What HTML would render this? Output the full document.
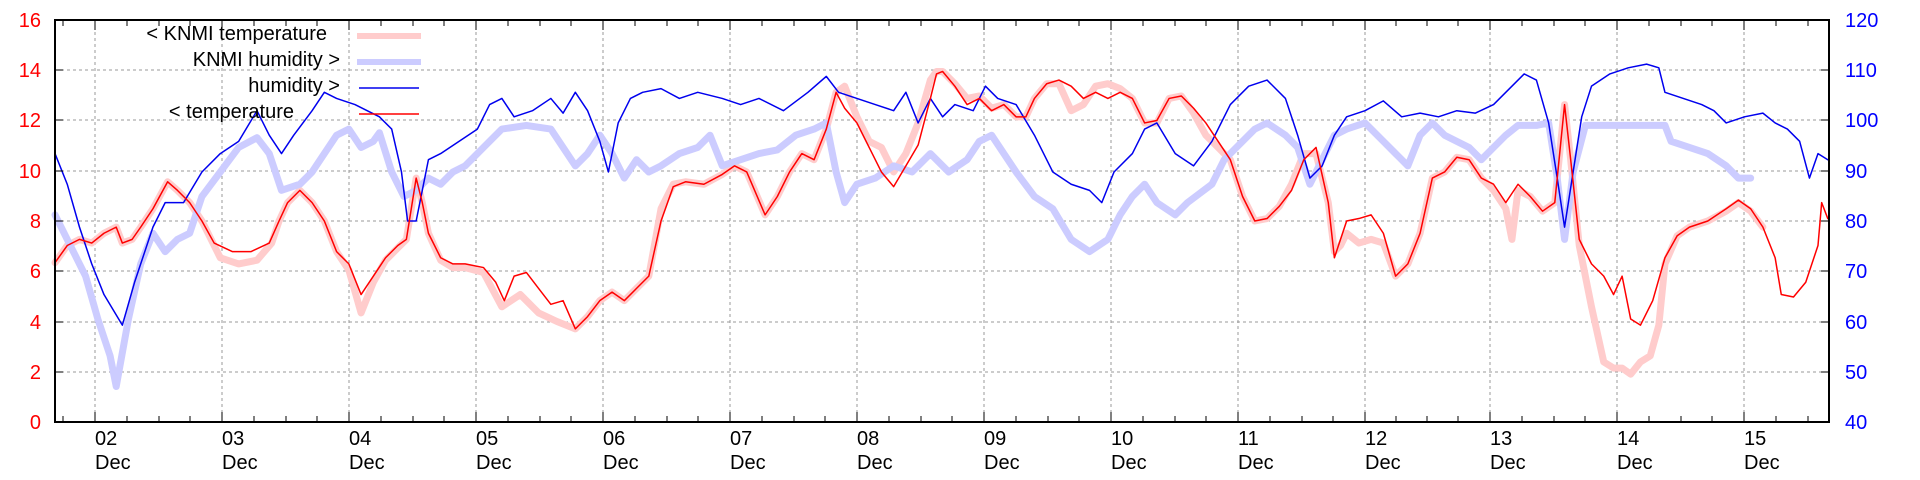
<!DOCTYPE html>
<html><head><meta charset="utf-8"><style>
html,body{margin:0;padding:0;background:#fff;}
svg{display:block;font-family:"Liberation Sans",sans-serif;}
</style></head><body>
<svg width="1920" height="480" viewBox="0 0 1920 480" xmlns="http://www.w3.org/2000/svg">
<rect width="1920" height="480" fill="#fff"/>
<g stroke="#999" stroke-width="1" stroke-dasharray="3,3">
<line x1="55" y1="70" x2="1829" y2="70"/><line x1="55" y1="120" x2="1829" y2="120"/><line x1="55" y1="171" x2="1829" y2="171"/><line x1="55" y1="221" x2="1829" y2="221"/><line x1="55" y1="271" x2="1829" y2="271"/><line x1="55" y1="322" x2="1829" y2="322"/><line x1="55" y1="372" x2="1829" y2="372"/>
<line x1="95" y1="20" x2="95" y2="422"/><line x1="222" y1="20" x2="222" y2="422"/><line x1="349" y1="20" x2="349" y2="422"/><line x1="476" y1="20" x2="476" y2="422"/><line x1="603" y1="20" x2="603" y2="422"/><line x1="730" y1="20" x2="730" y2="422"/><line x1="857" y1="20" x2="857" y2="422"/><line x1="984" y1="20" x2="984" y2="422"/><line x1="1111" y1="20" x2="1111" y2="422"/><line x1="1238" y1="20" x2="1238" y2="422"/><line x1="1365" y1="20" x2="1365" y2="422"/><line x1="1490" y1="20" x2="1490" y2="422"/><line x1="1617" y1="20" x2="1617" y2="422"/><line x1="1744" y1="20" x2="1744" y2="422"/>
</g>
<g fill="none" stroke-linejoin="round" stroke-linecap="round" transform="translate(55,20) scale(1.2243,1.2256) translate(-45,-16)">
<polyline vector-effect="non-scaling-stroke" stroke="#ffcccc" stroke-width="7" points="45,214 55,200 65,195 75,198 85,190 95,185 100,198 108,195 115,185 125,170 137,148 145,155 155,165 165,180 180,210 195,215 210,212 222,198 228,180 235,165 245,155 255,165 265,180 275,205 285,220 295,255 305,230 315,212 325,202 332,195 340,145 345,165 350,190 360,212 370,218 380,218 395,222 410,250 425,240 440,255 455,262 470,268 480,258 490,245 500,238 510,245 520,235 530,225 540,170 550,150 560,148 575,150 590,142 600,135 610,140 625,175 635,160 645,140 655,125 665,130 675,105 683,75 690,70 700,95 710,115 720,120 730,140 740,125 750,100 760,65 765,58 770,58 780,68 790,80 800,78 810,88 820,85 830,95 838,95 845,80 855,68 865,68 875,90 885,85 895,70 905,68 915,72 925,80 935,100 945,100 955,80 965,78 975,92 985,110 995,120 1005,130 1015,160 1025,180 1035,178 1045,168 1055,150 1065,125 1075,125 1085,165 1090,205 1095,200 1100,190 1110,198 1120,195 1130,198 1140,225 1150,215 1160,190 1170,145 1180,140 1190,128 1200,130 1210,145 1220,155 1230,170 1235,195 1240,155 1250,160 1260,172 1270,165 1278,85 1283,130 1290,200 1300,250 1310,295 1318,300 1325,300 1332,305 1340,295 1348,290 1355,265 1360,215 1370,192 1380,185 1395,180 1410,172 1420,165 1430,172 1440,185"/>
<polyline vector-effect="non-scaling-stroke" stroke="#ccccff" stroke-width="7" points="45,175 55,195 70,225 80,260 90,290 95,315 105,260 115,215 125,190 135,205 145,195 155,190 165,160 180,140 195,120 210,112 220,125 230,155 245,150 255,140 265,125 275,110 285,105 295,120 305,115 310,108 320,140 330,160 340,155 350,145 360,150 370,140 380,135 395,120 410,105 430,102 450,105 460,120 470,135 480,125 490,110 500,125 510,145 520,130 530,140 540,135 555,125 570,120 580,110 590,135 605,130 620,125 635,122 650,110 665,105 675,100 683,140 690,165 700,150 715,145 730,135 745,140 760,125 775,140 790,130 800,115 810,110 820,125 830,140 845,160 860,170 875,195 890,205 905,195 915,175 925,160 935,150 945,165 960,175 970,165 990,150 1000,130 1010,120 1025,105 1035,100 1050,110 1060,120 1070,150 1080,130 1090,110 1100,105 1115,100 1130,115 1140,125 1150,135 1160,110 1170,100 1180,110 1190,115 1200,120 1210,130 1220,120 1230,110 1240,102 1255,102 1265,100 1272,145 1278,195 1285,140 1295,102 1330,102 1360,102 1365,115 1380,120 1395,125 1410,135 1420,145 1430,145"/>
<polyline vector-effect="non-scaling-stroke" stroke="#0000ee" stroke-width="1.5" points="45,125 55,150 65,185 75,215 85,240 100,265 110,230 125,185 135,165 150,165 165,140 180,125 195,115 210,90 220,110 230,125 240,110 255,90 265,75 275,80 290,85 300,90 310,95 320,105 328,140 333,180 340,180 350,130 360,125 375,115 390,105 400,85 410,80 420,95 435,90 450,80 460,92 470,75 480,90 490,115 497,140 505,100 515,80 525,75 540,72 555,80 570,75 590,80 605,85 620,80 640,90 660,75 675,62 685,75 700,80 715,85 730,90 740,75 750,100 760,80 770,95 780,85 795,90 805,70 815,80 830,85 845,110 860,140 875,150 890,155 900,165 910,140 925,125 935,105 945,100 960,125 975,135 990,115 1005,85 1020,70 1035,65 1050,80 1060,110 1070,145 1080,135 1090,110 1100,95 1115,90 1130,82 1145,95 1160,92 1175,95 1190,90 1205,92 1220,85 1235,70 1245,60 1255,65 1265,100 1272,145 1278,185 1285,140 1292,95 1300,70 1315,60 1330,55 1345,52 1355,55 1360,75 1375,80 1390,85 1400,90 1410,100 1425,95 1440,92 1450,100 1460,105 1470,115 1478,145 1485,125 1493,130"/>
<polyline vector-effect="non-scaling-stroke" stroke="#ff0000" stroke-width="1.5" points="45,214 55,200 65,195 75,198 85,190 95,185 100,198 108,195 115,185 125,170 137,148 145,155 155,165 165,180 175,198 190,205 205,205 220,198 228,180 235,165 245,155 255,165 265,180 275,205 285,215 295,240 305,225 315,210 325,200 332,195 340,145 345,165 350,190 360,210 370,215 380,215 395,218 405,230 412,245 420,225 430,222 440,235 450,248 460,245 470,268 480,258 490,245 500,238 510,245 520,235 530,225 540,180 550,152 560,148 575,150 590,142 600,135 610,140 625,175 635,160 645,140 655,125 665,130 675,105 683,75 690,88 700,100 710,120 720,140 730,152 740,135 750,118 760,80 765,60 770,58 780,70 790,85 800,80 810,90 820,85 830,95 838,95 845,80 855,68 865,65 875,70 885,80 895,75 905,80 915,75 925,80 935,100 945,98 955,80 965,78 975,88 985,100 995,115 1005,130 1015,160 1025,180 1035,178 1045,168 1055,155 1065,130 1075,120 1085,165 1090,210 1095,195 1100,180 1110,178 1120,175 1130,190 1140,225 1150,215 1160,190 1170,145 1180,140 1190,128 1200,130 1210,145 1220,150 1230,165 1240,150 1250,160 1260,172 1270,165 1278,85 1283,130 1290,195 1300,215 1310,225 1318,240 1325,225 1332,260 1340,265 1350,245 1360,210 1370,192 1380,185 1395,180 1410,170 1420,163 1430,170 1440,185 1450,210 1455,240 1465,242 1475,230 1485,200 1488,165 1493,178"/>
</g>
<g stroke="#000" stroke-width="1">
<path d="M63,422v-6M63,20v6M127,422v-6M127,20v6M159,422v-6M159,20v6M190,422v-6M190,20v6M254,422v-6M254,20v6M286,422v-6M286,20v6M317,422v-6M317,20v6M381,422v-6M381,20v6M413,422v-6M413,20v6M444,422v-6M444,20v6M508,422v-6M508,20v6M540,422v-6M540,20v6M571,422v-6M571,20v6M635,422v-6M635,20v6M667,422v-6M667,20v6M698,422v-6M698,20v6M762,422v-6M762,20v6M794,422v-6M794,20v6M825,422v-6M825,20v6M889,422v-6M889,20v6M921,422v-6M921,20v6M952,422v-6M952,20v6M1016,422v-6M1016,20v6M1048,422v-6M1048,20v6M1079,422v-6M1079,20v6M1143,422v-6M1143,20v6M1175,422v-6M1175,20v6M1206,422v-6M1206,20v6M1270,422v-6M1270,20v6M1302,422v-6M1302,20v6M1333,422v-6M1333,20v6M1396,422v-6M1396,20v6M1427,422v-6M1427,20v6M1458,422v-6M1458,20v6M1522,422v-6M1522,20v6M1554,422v-6M1554,20v6M1585,422v-6M1585,20v6M1649,422v-6M1649,20v6M1681,422v-6M1681,20v6M1712,422v-6M1712,20v6M1776,422v-6M1776,20v6M1808,422v-6M1808,20v6"/>
<path d="M95,422v-10M95,20v10M222,422v-10M222,20v10M349,422v-10M349,20v10M476,422v-10M476,20v10M603,422v-10M603,20v10M730,422v-10M730,20v10M857,422v-10M857,20v10M984,422v-10M984,20v10M1111,422v-10M1111,20v10M1238,422v-10M1238,20v10M1365,422v-10M1365,20v10M1490,422v-10M1490,20v10M1617,422v-10M1617,20v10M1744,422v-10M1744,20v10"/>
<path d="M55,70h8M55,120h8M55,171h8M55,221h8M55,271h8M55,322h8M55,372h8M1829,70h-8M1829,120h-8M1829,171h-8M1829,221h-8M1829,271h-8M1829,322h-8M1829,372h-8"/>
</g>
<rect x="55" y="20" width="1774" height="402" fill="none" stroke="#000" stroke-width="2"/>
<g font-size="20" fill="#ff0000" text-anchor="end">
<text x="41" y="27">16</text><text x="41" y="77">14</text><text x="41" y="127">12</text><text x="41" y="178">10</text><text x="41" y="228">8</text><text x="41" y="278">6</text><text x="41" y="329">4</text><text x="41" y="379">2</text><text x="41" y="429">0</text>
</g>
<g font-size="20" fill="#0000ff">
<text x="1845" y="27">120</text><text x="1845" y="77">110</text><text x="1845" y="127">100</text><text x="1845" y="178">90</text><text x="1845" y="228">80</text><text x="1845" y="278">70</text><text x="1845" y="329">60</text><text x="1845" y="379">50</text><text x="1845" y="429">40</text>
</g>
<g font-size="20" fill="#000">
<text x="95" y="445">02</text><text x="95" y="469">Dec</text>
<text x="222" y="445">03</text><text x="222" y="469">Dec</text>
<text x="349" y="445">04</text><text x="349" y="469">Dec</text>
<text x="476" y="445">05</text><text x="476" y="469">Dec</text>
<text x="603" y="445">06</text><text x="603" y="469">Dec</text>
<text x="730" y="445">07</text><text x="730" y="469">Dec</text>
<text x="857" y="445">08</text><text x="857" y="469">Dec</text>
<text x="984" y="445">09</text><text x="984" y="469">Dec</text>
<text x="1111" y="445">10</text><text x="1111" y="469">Dec</text>
<text x="1238" y="445">11</text><text x="1238" y="469">Dec</text>
<text x="1365" y="445">12</text><text x="1365" y="469">Dec</text>
<text x="1490" y="445">13</text><text x="1490" y="469">Dec</text>
<text x="1617" y="445">14</text><text x="1617" y="469">Dec</text>
<text x="1744" y="445">15</text><text x="1744" y="469">Dec</text>
</g>
<g font-size="20" fill="#000" text-anchor="end">
<text x="327" y="40">&lt; KNMI temperature</text>
<text x="340" y="66">KNMI humidity &gt;</text>
<text x="340" y="92">humidity &gt;</text>
<text x="294" y="118">&lt; temperature</text>
</g>
<line x1="357" y1="36" x2="421" y2="36" stroke="#ffcccc" stroke-width="6"/>
<line x1="357" y1="62" x2="421" y2="62" stroke="#ccccff" stroke-width="6"/>
<line x1="359" y1="88" x2="419" y2="88" stroke="#0000ee" stroke-width="1.5"/>
<line x1="359" y1="114" x2="419" y2="114" stroke="#ff0000" stroke-width="1.5"/>
</svg>
</body></html>
